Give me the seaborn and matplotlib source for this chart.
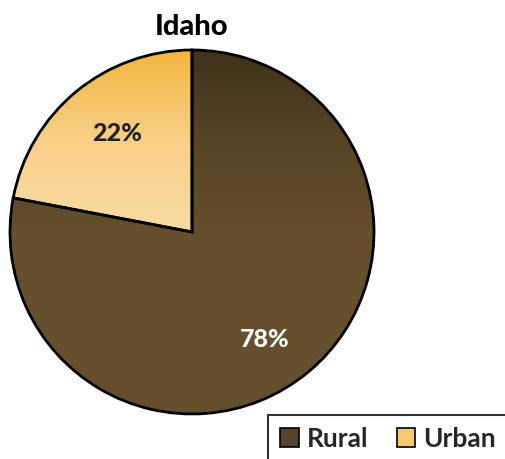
import numpy as np
import matplotlib.pyplot as plt
import seaborn as sns
from matplotlib.colors import LinearSegmentedColormap

sns.set_theme(style="white")
plt.rcParams['font.family'] = ['Lato', 'DejaVu Sans']

# data
labels = ["Rural", "Urban"]
shares = [78, 22]
title = "Idaho"

# gradient colours per slice (top -> bottom)
grad_colors = {
    "Rural": ["#3f311b", "#574526", "#654f2c", "#654f2c", "#654f2c"],
    "Urban": ["#f4b53f", "#f8d08a", "#f9dba3", "#f9dca6", "#f9dca6"],
}
legend_colors = {"Rural": "#57442a", "Urban": "#f8c872"}

fig = plt.figure(figsize=(5.05, 4.59), dpi=100)
ax = fig.add_axes([0.0198, 0.0981, 0.7208, 0.793])

wedges, texts, autotexts = ax.pie(
    shares, labels=None, startangle=90, counterclock=False,
    colors=[legend_colors[l] for l in labels],
    autopct=lambda p: f"{p:.0f}%", pctdistance=0.69,
    wedgeprops=dict(edgecolor="black", linewidth=2),
)
ax.set_xlim(-1.0, 1.0)
ax.set_ylim(-1.0, 1.0)
ax.set_aspect("equal")

# vertical gradient fill clipped to each wedge
yy = np.linspace(1, 0, 256).reshape(-1, 1)
for w, lab in zip(wedges, labels):
    cmap = LinearSegmentedColormap.from_list(lab, grad_colors[lab][::-1])
    im = ax.imshow(yy, cmap=cmap, extent=[-1, 1, -1, 1], aspect="auto",
                   origin="upper", zorder=w.get_zorder() - 0.1, vmin=0, vmax=1)
    im.set_clip_path(w)
    w.set_facecolor("none")
    w.set_clip_on(False)
    w.set_zorder(3)

# label offsets (slightly off the default pctdistance spot, as in the original)
label_pos = {"Rural": (0.40, -0.59), "Urban": (-0.41, 0.54)}
for t, lab in zip(autotexts, labels):
    t.set_position(label_pos[lab])
    t.set_fontsize(18)
    t.set_fontweight(900)
    t.set_color("white" if lab == "Rural" else "#222222")
    t.set_zorder(5)

fig.text(0.380, 0.970, title, ha="center", va="top", fontsize=21,
         fontweight=900, color="black")

handles = [plt.Rectangle((0, 0), 1, 1, facecolor=legend_colors[l],
                         edgecolor="black", linewidth=1.2) for l in labels]
leg = fig.legend(handles, labels, loc="center left",
                 bbox_to_anchor=(0.531, 0.044), ncol=2, frameon=True,
                 fancybox=False, edgecolor="black",
                 handlelength=0.7, handleheight=0.7, handletextpad=0.3,
                 columnspacing=1.1, borderpad=0.45, borderaxespad=0,
                 prop=dict(weight="bold", size=19))
leg.get_frame().set_linewidth(1.5)

fig.savefig("out.png", dpi=100)
